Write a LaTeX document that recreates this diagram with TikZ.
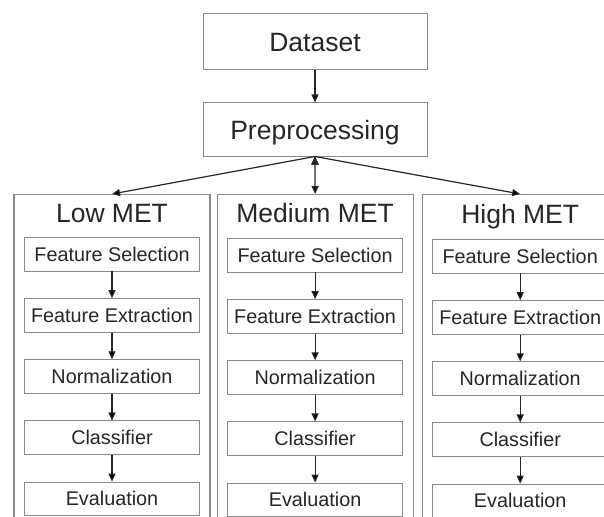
\documentclass[tikz,border=0pt]{standalone}
\usepackage{fontspec}
\setmainfont{Liberation Sans}
\usetikzlibrary{positioning,arrows.meta}
\definecolor{boxgray}{HTML}{8A8A8A}
\definecolor{inkgray}{HTML}{262626}
\tikzset{
    big box/.style = {
        draw = boxgray,
        line width = 1pt,
        minimum width = 224pt,
        font = \fontsize{26.5}{30}\selectfont,
        text = inkgray,
        text height = 19pt,
        text depth = 0pt,
        },
    met panel/.style = {
        draw = boxgray,
        line width = 1.1pt,
        minimum width = 196pt,
        minimum height = 340pt,
        },
    met title/.style = {
        inner sep = 0pt,
        font = \fontsize{26.5}{30}\selectfont,
        text = inkgray,
        text height = 19pt,
        text depth = 0pt,
        },
    small box/.style = {
        draw = boxgray,
        line width = 0.9pt,
        minimum width = 175pt,
        minimum height = 33.5pt,
        inner sep = 1pt,
        font = \fontsize{19.8}{22}\selectfont,
        text = inkgray,
        text height = 14pt,
        text depth = 0pt,
        },
    flow/.style = {
        draw = inkgray,
        line width = 1.2pt,
        },
}

\begin{document}
\begin{tikzpicture}[->, >={Triangle[length=8pt, width=7pt]}]
    \useasboundingbox (0,0) rectangle (604pt,-516pt);
    \clip (0,0) rectangle (604pt,-516pt);

    \node[big box, minimum height=56pt] (data) at (315pt,-42pt) {Dataset};
    \node[big box, minimum height=53pt, below=32pt of data] (prep) {Preprocessing};

    % three MET panels, cut off at the bottom and right
    \node[met panel, anchor=north] (low) at (112pt,-194pt) {};
    \node[met panel, right=6pt of low] (medium) {};
    \node[met panel, right=8pt of medium] (high) {};

    \node[met title, below=9pt of low.north] (lowtitle) {Low MET};
    \node[met title, below=9pt of medium.north] (mediumtitle) {Medium MET};
    \node[met title, below=10pt of high.north] (hightitle) {High MET};

    \node[small box, below=43pt of low.north] (l1) {Feature Selection};
    \node[small box, below=26.75pt of l1] (l2) {Feature Extraction};
    \node[small box, below=26.75pt of l2] (l3) {Normalization};
    \node[small box, below=26.75pt of l3] (l4) {Classifier};
    \node[small box, below=26.75pt of l4] (l5) {Evaluation};

    \node[small box, below=44pt of medium.north] (m1) {Feature Selection};
    \node[small box, below=26.75pt of m1] (m2) {Feature Extraction};
    \node[small box, below=26.75pt of m2] (m3) {Normalization};
    \node[small box, below=26.75pt of m3] (m4) {Classifier};
    \node[small box, below=26.75pt of m4] (m5) {Evaluation};

    \node[small box, below=45pt of high.north] (h1) {Feature Selection};
    \node[small box, below=26.75pt of h1] (h2) {Feature Extraction};
    \node[small box, below=26.75pt of h2] (h3) {Normalization};
    \node[small box, below=26.75pt of h3] (h4) {Classifier};
    \node[small box, below=26.75pt of h4] (h5) {Evaluation};

    \path[flow] (data) edge (prep);
    \path[flow] (prep.south) edge (low.north);
    \path[flow] (prep.south) edge (medium.north);
    \path[flow] (prep.south) edge (high.north);

    \path[flow] (l1) edge (l2);
    \path[flow] (l2) edge (l3);
    \path[flow] (l3) edge (l4);
    \path[flow] (l4) edge (l5);
    \path[flow] (m1) edge (m2);
    \path[flow] (m2) edge (m3);
    \path[flow] (m3) edge (m4);
    \path[flow] (m4) edge (m5);
    \path[flow] (h1) edge (h2);
    \path[flow] (h2) edge (h3);
    \path[flow] (h3) edge (h4);
    \path[flow] (h4) edge (h5);
\end{tikzpicture}
\end{document}
